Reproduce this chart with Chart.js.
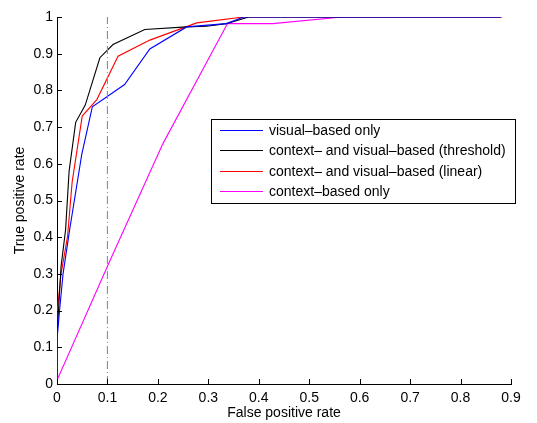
<!DOCTYPE html>
<html>
<head>
<meta charset="utf-8">
<script src="https://cdn.jsdelivr.net/npm/chart.js@4/dist/chart.umd.min.js"></script>
<style>
  html, body { margin: 0; padding: 0; background: #fff; }
  #wrap { width: 537px; height: 423px; }
</style>
</head>
<body>
<div id="wrap"><canvas id="roc"></canvas></div>
<script>
// ── Data ─────────────────────────────────────────────────────────────────────

const SERIES_LABELS = [
    'visual\u2013based only',
    'context\u2013 and visual\u2013based (threshold)',
    'context\u2013 and visual\u2013based (linear)',
    'context\u2013based only'
];

const visualFPR = [0, 0.005, 0.012, 0.025, 0.049, 0.07, 0.134, 0.184, 0.257, 0.336, 0.37, 0.88];
const visualTPR = [0.12, 0.2, 0.3, 0.42, 0.625, 0.755, 0.816, 0.913, 0.973, 0.982, 1, 1];

const thresholdFPR = [0, 0.003, 0.008, 0.017, 0.024, 0.037, 0.056, 0.085, 0.111, 0.174, 0.257, 0.296, 0.336, 0.38, 0.88];
const thresholdTPR = [0.13, 0.2, 0.32, 0.42, 0.58, 0.713, 0.76, 0.889, 0.925, 0.966, 0.973, 0.975, 0.982, 1, 1];

const linearFPR = [0, 0, 0.008, 0.021, 0.03, 0.05, 0.079, 0.121, 0.184, 0.277, 0.37, 0.883];
const linearTPR = [0, 0.19, 0.3, 0.403, 0.55, 0.73, 0.775, 0.893, 0.937, 0.984, 1, 1];

const contextFPR = [0, 0.104, 0.21, 0.338, 0.428, 0.565, 0.875];
const contextTPR = [0.01, 0.333, 0.655, 0.982, 0.982, 1, 1];

const MARKER_FPR = [0.1, 0.1];
const MARKER_TPR = [0, 1];

const X_TICKS = [0, 0.1, 0.2, 0.3, 0.4, 0.5, 0.6, 0.7, 0.8, 0.9];
const Y_TICKS = [0, 0.1, 0.2, 0.3, 0.4, 0.5, 0.6, 0.7, 0.8, 0.9, 1];

// ── Style ────────────────────────────────────────────────────────────────────

const COLORS = ['#0000ff', '#000000', '#ff0000', '#ff00ff'];
const MARKER_COLOR = '#6a9c9c';
const FONT = 'Liberation Sans, Arial, Helvetica, sans-serif';
const TICK_FONT = { size: 14, family: FONT };

function toPoints(xs, ys) {
    return xs.map((x, i) => ({ x: x, y: ys[i] }));
}

function lineSet(label, xs, ys, color) {
    return {
        label: label,
        data: toPoints(xs, ys),
        borderColor: color,
        backgroundColor: color,
        borderWidth: 1.1,
        pointRadius: 0,
        showLine: true,
        tension: 0
    };
}

// MATLAB-style inward tick marks
const inwardTicks = {
    id: 'inwardTicks',
    afterDatasetsDraw(chart) {
        const ctx = chart.ctx;
        const xs = chart.scales.x, ys = chart.scales.y;
        ctx.save();
        ctx.strokeStyle = '#000';
        ctx.lineWidth = 1;
        ctx.beginPath();
        X_TICKS.forEach(v => {
            const px = Math.round(xs.getPixelForValue(v)) + 0.5;
            ctx.moveTo(px, ys.bottom);
            ctx.lineTo(px, ys.bottom - 5);
        });
        Y_TICKS.forEach(v => {
            const py = Math.round(ys.getPixelForValue(v)) + 0.5;
            ctx.moveTo(xs.left, py);
            ctx.lineTo(xs.left + 5, py);
        });
        ctx.stroke();
        ctx.restore();
    }
};

// Boxed legend in the lower right of the plot
const boxLegend = {
    id: 'boxLegend',
    afterDraw(chart) {
        const ctx = chart.ctx;
        const left = 211, top = 119, w = 304, h = 84;
        ctx.save();
        ctx.fillStyle = '#fff';
        ctx.fillRect(left, top, w, h);
        ctx.strokeStyle = '#000';
        ctx.lineWidth = 1;
        ctx.strokeRect(left + 0.5, top + 0.5, w, h);
        ctx.font = '14px ' + FONT;
        ctx.textBaseline = 'middle';
        SERIES_LABELS.forEach((lab, i) => {
            const y = Math.round(top + 11 + i * 20.3);
            ctx.fillStyle = COLORS[i];
            ctx.fillRect(left + 9, y, 43, 1);
            ctx.fillStyle = '#000';
            ctx.fillText(lab, left + 58, y + 1.5);
        });
        ctx.restore();
    }
};

// ── Chart ────────────────────────────────────────────────────────────────────

function createRocChart() {
    const datasets = [
        lineSet(SERIES_LABELS[0], visualFPR, visualTPR, COLORS[0]),
        lineSet(SERIES_LABELS[1], thresholdFPR, thresholdTPR, COLORS[1]),
        lineSet(SERIES_LABELS[2], linearFPR, linearTPR, COLORS[2]),
        lineSet(SERIES_LABELS[3], contextFPR, contextTPR, COLORS[3])
    ];
    const marker = lineSet('marker', MARKER_FPR, MARKER_TPR, MARKER_COLOR);
    marker.borderDash = [8, 3, 1, 3];
    datasets.unshift(marker);

    new Chart(document.getElementById('roc'), {
        type: 'scatter',
        data: { datasets: datasets },
        options: {
            responsive: true,
            maintainAspectRatio: false,
            animation: false,
            layout: { padding: { left: 0, top: 17, right: 26, bottom: 0 } },
            plugins: {
                legend: { display: false },
                tooltip: { enabled: false }
            },
            scales: {
                x: {
                    type: 'linear',
                    min: 0,
                    max: 0.9,
                    afterBuildTicks: s => { s.ticks = X_TICKS.map(v => ({ value: v })); },
                    afterFit: s => { s.height = 39; },
                    ticks: {
                        font: TICK_FONT,
                        color: '#000',
                        padding: 6,
                        maxRotation: 0,
                        callback: v => String(+v.toFixed(1))
                    },
                    grid: { display: true, drawOnChartArea: false, drawTicks: false },
                    border: { display: true, color: '#000', width: 1 },
                    title: {
                        display: true,
                        text: 'False positive rate',
                        font: { size: 14, family: FONT },
                        color: '#000',
                        padding: { top: 0, bottom: 1 }
                    }
                },
                y: {
                    type: 'linear',
                    min: 0,
                    max: 1,
                    afterBuildTicks: s => { s.ticks = Y_TICKS.map(v => ({ value: v })); },
                    afterFit: s => { s.width = 57; },
                    ticks: {
                        font: TICK_FONT,
                        color: '#000',
                        padding: 4,
                        callback: v => String(+v.toFixed(1))
                    },
                    grid: { display: true, drawOnChartArea: false, drawTicks: false },
                    border: { display: true, color: '#000', width: 1 },
                    title: {
                        display: true,
                        text: 'True positive rate',
                        font: { size: 14, family: FONT },
                        color: '#000',
                        padding: { top: 12, bottom: 0 }
                    }
                }
            }
        },
        plugins: [inwardTicks, boxLegend]
    });
}

window.addEventListener('load', createRocChart);
</script>
</body>
</html>
